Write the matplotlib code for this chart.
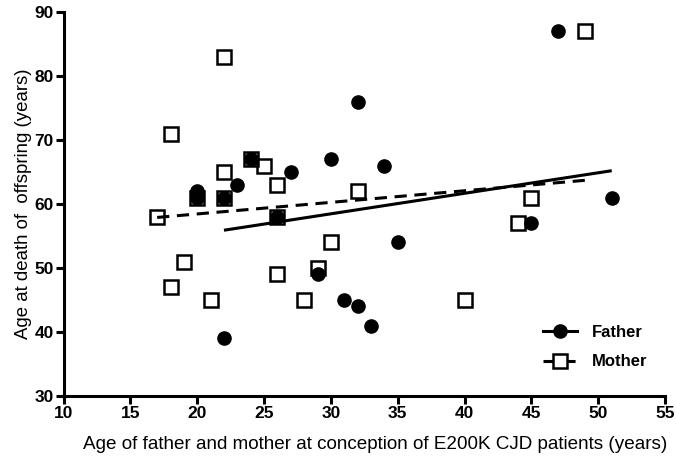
import matplotlib

matplotlib.use("Agg")
import matplotlib.pyplot as plt
from matplotlib.lines import Line2D

plt.rcParams["font.family"] = ["Liberation Sans", "DejaVu Sans"]

# Father: age at conception vs age at death of offspring
father_age = [20, 20, 22, 22, 23, 24, 26, 27, 29, 30, 31, 32, 32, 33, 34, 35, 45, 47, 51]
father_death = [62, 61, 61, 39, 63, 67, 58, 65, 49, 67, 45, 76, 44, 41, 66, 54, 57, 87, 61]

# Mother
mother_age = [17, 18, 18, 19, 20, 21, 22, 22, 22, 24, 25, 26, 26, 26, 28, 29, 30, 32, 40, 44, 45, 49]
mother_death = [58, 71, 47, 51, 61, 45, 83, 65, 61, 67, 66, 63, 58, 49, 45, 50, 54, 62, 45, 57, 61, 87]

# regression lines (end points)
father_fit_x = [22, 51]
father_fit_y = [55.9, 65.2]
mother_fit_x = [17, 49]
mother_fit_y = [57.9, 63.7]

fig = plt.figure(figsize=(6.76, 4.61), dpi=100)
ax = fig.add_axes([0.094, 0.141, 0.89, 0.833])

ax.plot(father_fit_x, father_fit_y, color="black", lw=2.2, solid_capstyle="butt")
ax.plot(mother_fit_x, mother_fit_y, color="black", lw=2.2, ls=(0, (4, 2.5)))
ax.plot(father_age, father_death, "o", color="black", ms=9.5, zorder=3)
ax.plot(mother_age, mother_death, "s", mfc="none", mec="black", mew=1.8, ms=10, zorder=4)

ax.set_xlim(10, 55)
ax.set_ylim(30, 90)
ax.set_xticks(range(10, 56, 5))
ax.set_yticks(range(30, 91, 10))
for s in ["top", "right"]:
    ax.spines[s].set_visible(False)
for s in ["left", "bottom"]:
    ax.spines[s].set_linewidth(2.2)
ax.tick_params(width=2.2, length=6, labelsize=12.5, pad=1)
for lab in ax.get_xticklabels() + ax.get_yticklabels():
    lab.set_fontweight("bold")

ax.set_xlabel("Age of father and mother at conception of E200K CJD patients (years)",
              fontsize=13.6, labelpad=8)
ax.xaxis.set_label_coords(0.518, -0.105)
ax.set_ylabel("Age at death of  offspring (years)", fontsize=13.4, labelpad=2)

handles = [
    Line2D([], [], color="black", lw=2.2, marker="o", ms=9.5),
    Line2D([], [], color="black", lw=2.2, ls=(0, (4, 2.5)), marker="s",
           mfc="white", mec="black", mew=1.8, ms=10),
]
ax.legend(handles, ["Father", "Mother"], loc="lower right", frameon=False,
          prop={"weight": "bold", "size": 12}, handlelength=2.0,
          labelspacing=0.85, handletextpad=0.9, bbox_to_anchor=(0.995, 0.03))

fig.savefig("out.png", dpi=100)
